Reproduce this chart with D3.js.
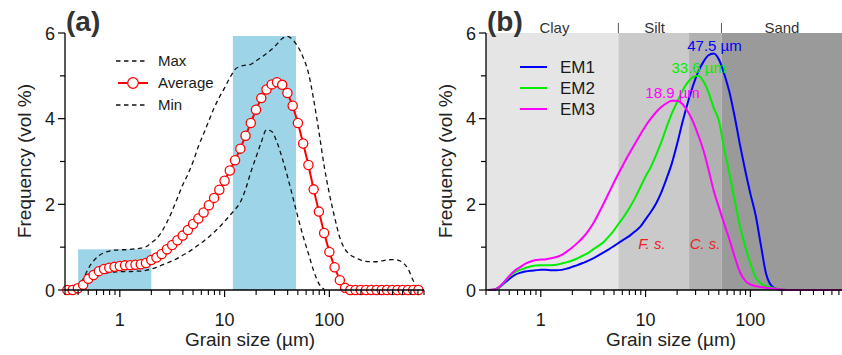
<!DOCTYPE html>
<html>
<head>
<meta charset="utf-8">
<script src="https://cdn.jsdelivr.net/npm/d3@7/dist/d3.min.js"></script>
<style>
  body { margin: 0; background: #fff; }
  svg { font-family: Arial, "Liberation Sans", sans-serif; }
</style>
</head>
<body>
<svg id="chart" width="842" height="355"></svg>
<script>
// grain size classes (µm), 20 per decade
const sizes = [0.316,0.355,0.398,0.447,0.501,0.562,0.631,0.708,0.794,0.891,
  1,1.122,1.259,1.413,1.585,1.778,1.995,2.239,2.512,2.818,
  3.162,3.548,3.981,4.467,5.012,5.623,6.310,7.079,7.943,8.913,
  10,11.22,12.59,14.13,15.85,17.78,19.95,22.39,25.12,28.18,
  31.62,35.48,39.81,44.67,50.12,56.23,63.10,70.79,79.43,89.13,
  100,112.2,125.9,141.3,158.5,177.8,199.5,223.9,251.2,281.8,
  316.2,354.8,398.1,446.7,501.2,562.3,631.0,707.9];
const sizesB = sizes.concat([794.3]);

// panel (a)
const avgVals = [0,0,0.04,0.12,0.26,0.35,0.44,0.49,0.52,0.54,
  0.56,0.575,0.58,0.59,0.60,0.63,0.70,0.76,0.84,0.95,
  1.05,1.16,1.27,1.40,1.54,1.67,1.81,1.98,2.15,2.34,
  2.55,2.79,3.03,3.30,3.60,3.90,4.21,4.48,4.68,4.80,
  4.85,4.79,4.60,4.30,3.90,3.42,2.92,2.35,1.83,1.33,
  0.89,0.53,0.23,0.05,0,0,0,0,0,0,
  0,0,0,0,0,0,0,0];
const maxVals = [null,null,0.02,0.25,0.50,0.68,0.80,0.87,0.91,0.93,
  0.94,0.94,0.95,0.96,0.98,1.01,1.10,1.20,1.36,1.58,
  1.85,2.15,2.45,2.70,3.00,3.35,3.65,3.95,4.25,4.50,
  4.72,4.95,5.15,5.22,5.25,5.27,5.35,5.43,5.52,5.62,
  5.74,5.87,5.92,5.84,5.68,5.43,5.07,4.45,3.70,2.90,
  2.25,1.70,1.22,0.95,0.82,0.75,0.70,0.67,0.66,0.66,
  0.68,0.70,0.71,0.70,0.64,0.50,0.22,0.0];
const minVals = [null,null,0.0,0.08,0.18,0.27,0.34,0.38,0.41,0.42,
  0.43,0.43,0.43,0.44,0.44,0.46,0.49,0.53,0.58,0.63,
  0.68,0.74,0.81,0.88,0.96,1.05,1.14,1.24,1.35,1.47,
  1.60,1.74,1.88,2.05,2.35,2.75,3.10,3.45,3.74,3.70,
  3.45,3.08,2.65,2.18,1.70,1.25,0.85,0.45,0.15,0.02,
  null,null,null,null,null,null,null,null,null,null,
  null,null,null,null,null,null,null,null];
// modal size ranges highlighted in blue: [from, to, height]
const bands = [[0.4, 2.0, 0.95], [12, 48, 5.93]];

// panel (b) end members
const em1 = [0,0,0.05,0.16,0.26,0.35,0.40,0.43,0.45,0.46,
  0.47,0.47,0.46,0.46,0.47,0.50,0.54,0.58,0.63,0.68,
  0.74,0.81,0.88,0.95,1.03,1.11,1.19,1.27,1.37,1.48,
  1.65,1.82,2.02,2.28,2.60,2.95,3.40,3.90,4.35,4.75,
  5.08,5.32,5.48,5.52,5.38,5.05,4.62,4.05,3.40,2.80,
  2.25,1.75,1.05,0.38,0.10,0.02,0,0,0,0,
  0,0,0,0,0,0,0,0,0];
const em2 = [0,0.01,0.06,0.18,0.31,0.41,0.47,0.51,0.55,0.57,
  0.58,0.58,0.58,0.59,0.62,0.65,0.69,0.74,0.80,0.86,
  0.95,1.03,1.12,1.25,1.40,1.57,1.74,1.93,2.15,2.40,
  2.65,2.87,3.15,3.45,3.80,4.12,4.38,4.64,4.84,4.97,
  5.00,4.88,4.62,4.25,3.95,3.30,2.72,2.10,1.50,1.02,
  0.62,0.30,0.15,0.09,0.06,0.03,0.01,0,0,0,
  0,0,0,0,0,0,0,0,0];
const em3 = [0,0.01,0.07,0.19,0.33,0.45,0.53,0.61,0.66,0.70,
  0.71,0.72,0.74,0.77,0.82,0.90,0.99,1.10,1.22,1.37,
  1.55,1.78,2.02,2.27,2.52,2.76,2.99,3.21,3.42,3.63,
  3.83,4.00,4.15,4.27,4.36,4.42,4.42,4.35,4.18,3.95,
  3.63,3.28,2.82,2.32,1.93,1.55,1.18,0.78,0.42,0.22,
  0.13,0.09,0.07,0.05,0.04,0.03,0.01,0,0,0,
  0,0,0,0,0,0,0,0,0];
const emNames = ["EM1", "EM2", "EM3"];
const emColors = ["#0000ff", "#00ee00", "#ff00ff"];
const emModes = [47.5, 33.6, 18.9];
const emPeaks = [5.52, 5.00, 4.42];

// size classes shading: [from, to, fill]
const zones = [[0.3, 5.5, "#e5e5e5"], [5.5, 26, "#cacaca"], [26, 53, "#b1b1b1"], [53, 800, "#9a9a9a"]];
const zoneNames = [["Clay", 1.35], ["Silt", 12.2], ["Sand", 200]];
const zoneSeps = [5.5, 53];

const yTicks = [0, 1, 2, 3, 4, 5, 6];
const xMajor = [1, 10, 100];
const xMinor = [0.3,0.4,0.5,0.6,0.7,0.8,0.9,2,3,4,5,6,7,8,9,20,30,40,50,60,70,80,90,200,300,400,500,600,700,800];

const svg = d3.select("#chart");
const y = d3.scaleLinear().domain([0, 6]).range([290, 33]);

function axes(x0, x1, tag, ylabX, titleX) {
  const x = d3.scaleLog().domain([0.3, 800]).range([x0, x1]);
  const g = svg.append("g").attr("class", "axes-" + tag);
  // x axis
  g.append("line").attr("x1", x0).attr("x2", Math.min(x1, 842)).attr("y1", 290).attr("y2", 290)
    .attr("stroke", "#000").attr("stroke-width", 1.3);
  g.selectAll(".xmin").data(xMinor.filter(d => x(d) <= 842)).join("line")
    .attr("x1", d => x(d)).attr("x2", d => x(d)).attr("y1", 290).attr("y2", 295)
    .attr("stroke", "#000").attr("stroke-width", 1.1);
  g.selectAll(".xmaj").data(xMajor).join("line")
    .attr("x1", d => x(d)).attr("x2", d => x(d)).attr("y1", 290).attr("y2", 297)
    .attr("stroke", "#000").attr("stroke-width", 1.2);
  g.selectAll(".xlab").data(xMajor).join("text")
    .attr("x", d => x(d)).attr("y", 326).attr("text-anchor", "middle")
    .attr("font-size", 18).attr("fill", "#1a1a1a").text(d => d);
  // y axis
  g.append("line").attr("x1", x0).attr("x2", x0).attr("y1", 290).attr("y2", 33)
    .attr("stroke", "#000").attr("stroke-width", 1.3);
  g.selectAll(".ytk").data(yTicks).join("line")
    .attr("x1", x0).attr("x2", d => d % 2 === 0 ? x0 - 7 : x0 - 5)
    .attr("y1", d => y(d)).attr("y2", d => y(d))
    .attr("stroke", "#000").attr("stroke-width", 1.2);
  g.selectAll(".ylab").data(yTicks.filter(d => d % 2 === 0)).join("text")
    .attr("x", x0 - 10).attr("y", d => y(d) + 6.5).attr("text-anchor", "end")
    .attr("font-size", 18).attr("fill", "#1a1a1a").text(d => d);
  // titles
  g.append("text").attr("x", titleX).attr("y", 346)
    .attr("text-anchor", "middle").attr("font-size", 19).attr("fill", "#222")
    .text("Grain size (µm)");
  g.append("text").attr("transform", `translate(${ylabX},161) rotate(-90)`)
    .attr("text-anchor", "middle").attr("font-size", 19).attr("fill", "#222")
    .text("Frequency (vol %)");
  g.append("text").attr("x", x0 + 1).attr("y", 31).attr("font-size", 28).attr("font-weight", "bold")
    .attr("fill", "#333").text(tag);
  return x;
}

// ---------- panel (a)
const xa = d3.scaleLog().domain([0.3, 800]).range([65, 424]);
svg.append("g").selectAll("rect").data(bands).join("rect")
  .attr("x", d => xa(d[0])).attr("width", d => xa(d[1]) - xa(d[0]))
  .attr("y", d => y(d[2])).attr("height", d => y(0) - y(d[2]))
  .attr("fill", "#9dd4e8");

const lineA = d3.line().defined(d => d[1] !== null)
  .x(d => xa(d[0])).y(d => y(d[1])).curve(d3.curveMonotoneX);
[maxVals, minVals].forEach(vals => {
  svg.append("path").datum(sizes.map((s, i) => [s, vals[i]]))
    .attr("d", lineA).attr("fill", "none").attr("stroke", "#111")
    .attr("stroke-width", 1.3).attr("stroke-dasharray", "4.5,3.5");
});
const avgPts = sizes.map((s, i) => [s, avgVals[i]]);
svg.append("path").datum(avgPts)
  .attr("d", d3.line().x(d => xa(d[0])).y(d => y(d[1])))
  .attr("fill", "none").attr("stroke", "#ff0000").attr("stroke-width", 2);
svg.append("g").selectAll("circle").data(avgPts).join("circle")
  .attr("cx", d => xa(d[0])).attr("cy", d => y(d[1])).attr("r", 4.6)
  .attr("fill", "#fff").attr("stroke", "#ff0000").attr("stroke-width", 1.3);

// legend (a)
const legA = svg.append("g").attr("font-size", 15).attr("fill", "#1a1a1a");
legA.append("line").attr("x1", 116).attr("x2", 147).attr("y1", 61).attr("y2", 61)
  .attr("stroke", "#111").attr("stroke-width", 1.3).attr("stroke-dasharray", "4.5,3.5");
legA.append("line").attr("x1", 118).attr("x2", 148).attr("y1", 83).attr("y2", 83)
  .attr("stroke", "#ff0000").attr("stroke-width", 2);
legA.append("circle").attr("cx", 133).attr("cy", 83).attr("r", 5.3)
  .attr("fill", "#fff").attr("stroke", "#ff0000").attr("stroke-width", 1.2);
legA.append("line").attr("x1", 116).attr("x2", 147).attr("y1", 105).attr("y2", 105)
  .attr("stroke", "#111").attr("stroke-width", 1.3).attr("stroke-dasharray", "4.5,3.5");
legA.selectAll("text").data([["Max", 66], ["Average", 88], ["Min", 110]]).join("text")
  .attr("x", 158).attr("y", d => d[1]).text(d => d[0]);

axes(65, 424, "(a)", 31, 250);

// ---------- panel (b)
const xb = d3.scaleLog().domain([0.3, 800]).range([486, 845]);
svg.append("g").selectAll("rect").data(zones).join("rect")
  .attr("x", d => xb(d[0])).attr("width", d => Math.min(xb(d[1]), 842) - xb(d[0]))
  .attr("y", y(6)).attr("height", y(0) - y(6)).attr("fill", d => d[2]);

svg.append("g").selectAll("text").data(zoneNames).join("text")
  .attr("x", d => xb(d[1])).attr("y", 33).attr("text-anchor", "middle")
  .attr("font-size", 15).attr("fill", "#333").text(d => d[0]);
svg.append("g").selectAll("line").data(zoneSeps).join("line")
  .attr("x1", d => xb(d)).attr("x2", d => xb(d)).attr("y1", 23).attr("y2", 33)
  .attr("stroke", "#555").attr("stroke-width", 1);

svg.append("g").attr("font-size", 15).attr("font-style", "italic").attr("fill", "#ee2222")
  .selectAll("text").data([["F. s.", 11.5], ["C. s.", 37]]).join("text")
  .attr("x", d => xb(d[1])).attr("y", 249).attr("text-anchor", "middle").text(d => d[0]);

const lineB = d3.line().x(d => xb(d[0])).y(d => y(d[1])).curve(d3.curveMonotoneX);
[em1, em2, em3].forEach((vals, i) => {
  svg.append("path").datum(sizesB.map((s, j) => [s, vals[j]]))
    .attr("d", lineB).attr("fill", "none").attr("stroke", emColors[i]).attr("stroke-width", 2);
});
svg.append("g").attr("font-size", 15).selectAll("text").data(emModes).join("text")
  .attr("x", (d, i) => xb(d) - 2).attr("y", (d, i) => y(emPeaks[i]) - 3)
  .attr("text-anchor", "middle").attr("fill", (d, i) => emColors[i])
  .text(d => d.toFixed(1) + " µm");

// legend (b)
const legB = svg.append("g");
emNames.forEach((n, i) => {
  legB.append("line").attr("x1", 520).attr("x2", 547).attr("y1", 67 + i * 21).attr("y2", 67 + i * 21)
    .attr("stroke", emColors[i]).attr("stroke-width", 2);
  legB.append("text").attr("x", 560).attr("y", 73 + i * 21).attr("font-size", 17)
    .attr("fill", "#1a1a1a").text(n);
});

axes(486, 845, "(b)", 452, 671);
</script>
</body>
</html>
